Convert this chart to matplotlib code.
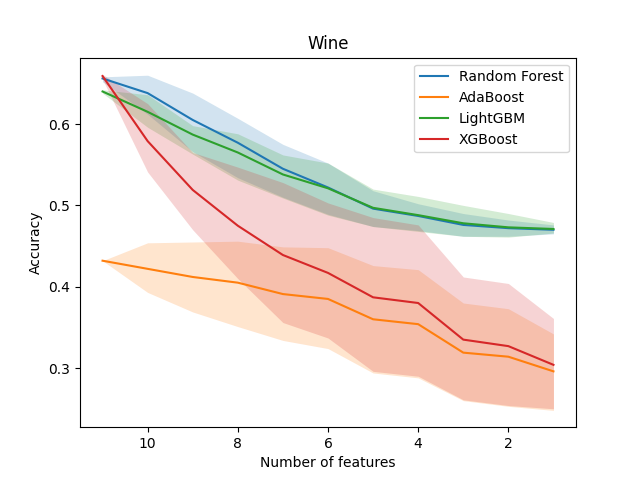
import matplotlib
matplotlib.use("Agg")
import matplotlib.pyplot as plt
import numpy as np

n_features = [11, 10, 9, 8, 7, 6, 5, 4, 3, 2, 1]

rf_mean = [0.656, 0.638, 0.605, 0.577, 0.545, 0.522, 0.496, 0.487, 0.476, 0.472, 0.470]
rf_low = [0.652, 0.612, 0.566, 0.534, 0.510, 0.489, 0.474, 0.469, 0.462, 0.462, 0.465]
rf_high = [0.658, 0.660, 0.638, 0.607, 0.575, 0.552, 0.518, 0.502, 0.490, 0.482, 0.476]

ada_mean = [0.432, 0.422, 0.412, 0.405, 0.391, 0.385, 0.360, 0.354, 0.319, 0.314, 0.296]
ada_low = [0.432, 0.393, 0.369, 0.351, 0.334, 0.324, 0.294, 0.288, 0.260, 0.253, 0.248]
ada_high = [0.432, 0.454, 0.455, 0.456, 0.449, 0.448, 0.426, 0.421, 0.380, 0.373, 0.342]

lgbm_mean = [0.640, 0.615, 0.587, 0.565, 0.538, 0.521, 0.497, 0.488, 0.478, 0.473, 0.471]
lgbm_low = [0.638, 0.596, 0.563, 0.531, 0.509, 0.488, 0.474, 0.468, 0.462, 0.461, 0.466]
lgbm_high = [0.642, 0.636, 0.598, 0.588, 0.562, 0.552, 0.520, 0.511, 0.500, 0.490, 0.479]

xgb_mean = [0.659, 0.579, 0.519, 0.475, 0.439, 0.417, 0.387, 0.380, 0.335, 0.327, 0.304]
xgb_low = [0.655, 0.541, 0.470, 0.410, 0.356, 0.337, 0.296, 0.290, 0.261, 0.254, 0.250]
xgb_high = [0.661, 0.625, 0.565, 0.547, 0.528, 0.503, 0.485, 0.476, 0.412, 0.404, 0.361]

models = [
    ("Random Forest", rf_mean, rf_low, rf_high),
    ("AdaBoost", ada_mean, ada_low, ada_high),
    ("LightGBM", lgbm_mean, lgbm_low, lgbm_high),
    ("XGBoost", xgb_mean, xgb_low, xgb_high),
]

fig, ax = plt.subplots(figsize=(6.4, 4.8), dpi=100)
for name, mean, low, high in models:
    line, = ax.plot(n_features, mean, label=name)
    ax.fill_between(n_features, low, high, color=line.get_color(), alpha=0.2, linewidth=0)

ax.invert_xaxis()
ax.set_title("Wine")
ax.set_xlabel("Number of features")
ax.set_ylabel("Accuracy")
ax.legend(loc="upper right")
fig.savefig("out.png")
